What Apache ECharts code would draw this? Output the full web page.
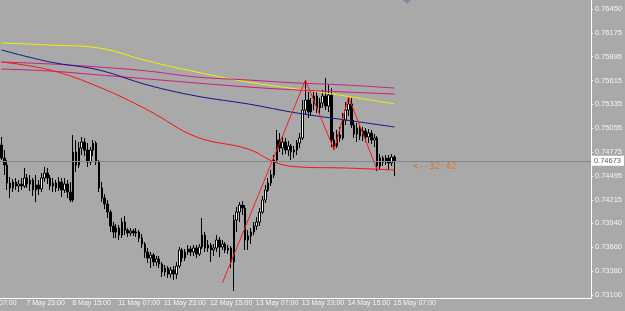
<!DOCTYPE html>
<html>
<head>
<meta charset="utf-8">
<script src="https://cdn.jsdelivr.net/npm/echarts@6/dist/echarts.min.js"></script>
<style>
html, body { margin: 0; padding: 0; background: #a9a9a9; }
#chart { width: 625px; height: 311px; }
</style>
</head>
<body>
<div id="chart"></div>
<script>
// hourly bars, weekend skipped
var days = [['7 May', 15, 23], ['8 May', 0, 23], ['11 May', 0, 23], ['12 May', 0, 23],
    ['13 May', 0, 23], ['14 May', 0, 23], ['15 May', 0, 8]]
var totalSlots = 206

// [open, close, low, high]
var bars = [
    [0.74859, 0.74706, 0.74683, 0.74953], [0.74706, 0.74624, 0.74507, 0.74800], [0.74624, 0.74413, 0.74331, 0.74683],
    [0.74413, 0.74355, 0.74237, 0.74484], [0.74355, 0.74425, 0.74308, 0.74460], [0.74425, 0.74378, 0.74331, 0.74472],
    [0.74378, 0.74401, 0.74308, 0.74448], [0.74401, 0.74378, 0.74331, 0.74472], [0.74378, 0.74472, 0.74355, 0.74589],
    [0.74472, 0.74401, 0.74355, 0.74519], [0.74401, 0.74448, 0.74319, 0.74507], [0.74448, 0.74331, 0.74261, 0.74472],
    [0.74331, 0.74390, 0.74190, 0.74507], [0.74390, 0.74343, 0.74272, 0.74448], [0.74343, 0.74472, 0.74308, 0.74530],
    [0.74472, 0.74530, 0.74425, 0.74601], [0.74530, 0.74472, 0.74401, 0.74589], [0.74472, 0.74378, 0.74331, 0.74507],
    [0.74378, 0.74413, 0.74308, 0.74472], [0.74413, 0.74355, 0.74308, 0.74448], [0.74355, 0.74425, 0.74319, 0.74484],
    [0.74425, 0.74331, 0.74249, 0.74472], [0.74331, 0.74401, 0.74296, 0.74472], [0.74401, 0.74308, 0.74237, 0.74448],
    [0.74308, 0.74214, 0.74190, 0.74425], [0.74214, 0.74777, 0.74190, 0.74976], [0.74777, 0.74624, 0.74542, 0.74917],
    [0.74624, 0.74824, 0.74589, 0.74894], [0.74824, 0.74894, 0.74741, 0.74953], [0.74894, 0.74800, 0.74730, 0.74941],
    [0.74800, 0.74659, 0.74601, 0.74882], [0.74659, 0.74800, 0.74624, 0.74835], [0.74800, 0.74882, 0.74730, 0.74917],
    [0.74882, 0.74659, 0.74624, 0.74906], [0.74659, 0.74355, 0.74308, 0.74683], [0.74355, 0.74237, 0.74190, 0.74425],
    [0.74237, 0.74167, 0.74108, 0.74284], [0.74167, 0.74073, 0.74003, 0.74214], [0.74073, 0.73909, 0.73839, 0.74097],
    [0.73909, 0.73839, 0.73768, 0.73956], [0.73839, 0.73885, 0.73768, 0.73932], [0.73885, 0.73803, 0.73745, 0.73921],
    [0.73803, 0.73956, 0.73768, 0.74003], [0.73956, 0.73862, 0.73803, 0.74026], [0.73862, 0.73827, 0.73780, 0.73885],
    [0.73827, 0.73850, 0.73792, 0.73885], [0.73850, 0.73827, 0.73792, 0.73874], [0.73827, 0.73839, 0.73780, 0.73885],
    [0.73839, 0.73768, 0.73721, 0.73862], [0.73768, 0.73698, 0.73651, 0.73815], [0.73698, 0.73604, 0.73534, 0.73721],
    [0.73604, 0.73534, 0.73475, 0.73651], [0.73534, 0.73569, 0.73416, 0.73604], [0.73569, 0.73487, 0.73440, 0.73592],
    [0.73487, 0.73522, 0.73440, 0.73557], [0.73522, 0.73463, 0.73416, 0.73557], [0.73463, 0.73370, 0.73311, 0.73487],
    [0.73370, 0.73416, 0.73323, 0.73452], [0.73416, 0.73346, 0.73300, 0.73440], [0.73346, 0.73393, 0.73300, 0.73428],
    [0.73393, 0.73346, 0.73276, 0.73440], [0.73346, 0.73440, 0.73287, 0.73487], [0.73440, 0.73628, 0.73416, 0.73663],
    [0.73628, 0.73534, 0.73487, 0.73651], [0.73534, 0.73604, 0.73499, 0.73639], [0.73604, 0.73639, 0.73569, 0.73686],
    [0.73639, 0.73604, 0.73557, 0.73674], [0.73604, 0.73651, 0.73557, 0.73686], [0.73651, 0.73581, 0.73534, 0.73686],
    [0.73581, 0.73663, 0.73557, 0.73698], [0.73663, 0.73803, 0.73639, 0.74003], [0.73803, 0.73651, 0.73604, 0.73839],
    [0.73651, 0.73686, 0.73604, 0.73745], [0.73686, 0.73628, 0.73487, 0.73710], [0.73628, 0.73651, 0.73557, 0.73698],
    [0.73651, 0.73745, 0.73604, 0.73803], [0.73745, 0.73663, 0.73545, 0.73780], [0.73663, 0.73698, 0.73628, 0.73745],
    [0.73698, 0.73628, 0.73592, 0.73721], [0.73628, 0.73651, 0.73581, 0.73686], [0.73651, 0.73487, 0.73416, 0.73674],
    [0.73487, 0.73979, 0.73147, 0.74038], [0.73979, 0.74073, 0.73839, 0.74132], [0.74073, 0.74155, 0.73956, 0.74190],
    [0.74155, 0.74120, 0.74038, 0.74202], [0.74120, 0.73745, 0.73628, 0.74155], [0.73745, 0.73792, 0.73628, 0.73862],
    [0.73792, 0.73839, 0.73698, 0.73885], [0.73839, 0.73909, 0.73803, 0.73956], [0.73909, 0.73956, 0.73862, 0.74015],
    [0.73956, 0.74073, 0.73909, 0.74120], [0.74073, 0.74214, 0.74050, 0.74261], [0.74214, 0.74331, 0.74179, 0.74390],
    [0.74331, 0.74413, 0.74308, 0.74472], [0.74413, 0.74507, 0.74378, 0.74566], [0.74507, 0.74683, 0.74472, 0.74741],
    [0.74683, 0.74917, 0.74648, 0.75035], [0.74917, 0.74824, 0.74777, 0.74999], [0.74824, 0.74894, 0.74741, 0.74953],
    [0.74894, 0.74800, 0.74753, 0.74941], [0.74800, 0.74847, 0.74730, 0.74906], [0.74847, 0.74777, 0.74683, 0.74871],
    [0.74777, 0.74800, 0.74706, 0.74847], [0.74800, 0.74882, 0.74741, 0.74917], [0.74882, 0.74941, 0.74824, 0.74999],
    [0.74941, 0.75269, 0.74917, 0.75386], [0.75269, 0.75386, 0.75222, 0.75621], [0.75386, 0.75246, 0.75175, 0.75480],
    [0.75246, 0.75340, 0.75199, 0.75410], [0.75340, 0.75433, 0.75269, 0.75504], [0.75433, 0.75293, 0.75234, 0.75480],
    [0.75293, 0.75351, 0.75222, 0.75410], [0.75351, 0.75433, 0.75293, 0.75504], [0.75433, 0.75316, 0.75269, 0.75644],
    [0.75316, 0.75445, 0.75246, 0.75562], [0.75445, 0.74917, 0.74835, 0.75527], [0.74917, 0.74847, 0.74800, 0.75011],
    [0.74847, 0.74976, 0.74824, 0.75035], [0.74976, 0.74941, 0.74894, 0.75070], [0.74941, 0.75152, 0.74917, 0.75234],
    [0.75152, 0.75269, 0.75093, 0.75363], [0.75269, 0.75340, 0.75199, 0.75422], [0.75340, 0.75093, 0.75058, 0.75410],
    [0.75093, 0.74988, 0.74941, 0.75152], [0.74988, 0.75058, 0.74894, 0.75117], [0.75058, 0.74964, 0.74917, 0.75093],
    [0.74964, 0.75023, 0.74906, 0.75070], [0.75023, 0.74953, 0.74894, 0.75058], [0.74953, 0.74999, 0.74882, 0.75046],
    [0.74999, 0.74917, 0.74871, 0.75035], [0.74917, 0.74941, 0.74835, 0.74988], [0.74941, 0.74613, 0.74554, 0.74964],
    [0.74613, 0.74706, 0.74566, 0.74753], [0.74706, 0.74659, 0.74613, 0.74730], [0.74659, 0.74706, 0.74624, 0.74741],
    [0.74706, 0.74648, 0.74566, 0.74741], [0.74648, 0.74718, 0.74613, 0.74753], [0.74718, 0.74673, 0.74495, 0.74741]
]

// moving averages, read at a few bars: [bar index, price]
var maYellow = [[0, 0.76055], [17, 0.76031], [34, 0.75996], [51, 0.75844], [68, 0.75715], [86, 0.75597], [103, 0.75515], [120, 0.75433], [137, 0.75340]]
var maBlue = [[0, 0.75973], [17, 0.75832], [34, 0.75738], [51, 0.75562], [68, 0.75433], [86, 0.75340], [103, 0.75234], [120, 0.75152], [137, 0.75070]]
var maRed = [[0, 0.75832], [17, 0.75738], [34, 0.75539], [51, 0.75269], [68, 0.74953], [86, 0.74812], [96, 0.74648], [104, 0.74601], [120, 0.74589], [137, 0.74566]]
var maPinkA = [[0, 0.75832], [17, 0.75809], [34, 0.75773], [51, 0.75726], [68, 0.75656], [86, 0.75621], [103, 0.75586], [120, 0.75562], [137, 0.75527]]
var maPinkB = [[0, 0.75750], [17, 0.75726], [34, 0.75680], [51, 0.75633], [68, 0.75586], [86, 0.75539], [103, 0.75504], [120, 0.75480], [137, 0.75457]]
var zigzag = [[77, 0.73241], [106, 0.75621], [116, 0.74800], [121, 0.75422], [131, 0.74566]]

var priceTicks = [0.76450, 0.76175, 0.75895, 0.75615, 0.75335, 0.75055, 0.74775, 0.74495, 0.74215, 0.73940, 0.73660, 0.73380, 0.73100]
var lastPrice = 0.74673
var timerText = '<--32:42'

var categories = []
days.forEach(function (d) {
    for (var h = d[1]; h <= d[2]; h++) {
        categories.push(d[0] + ' ' + (h < 10 ? '0' : '') + h + ':00')
    }
})
while (categories.length < totalSlots) categories.push('')

function sparse (points) {
    var arr = []
    for (var i = 0; i < totalSlots; i++) arr.push(null)
    points.forEach(function (p) { arr[p[0]] = p[1] })
    return arr
}

function maSeries (points, color) {
    return {
        type: 'line',
        data: sparse(points),
        connectNulls: true,
        smooth: 0.4,
        symbol: 'none',
        z: 3,
        lineStyle: { color: color, width: 1 }
    }
}

var showTime = function (idx) {
    return idx < bars.length && idx % 16 === 8
}

var chart = echarts.init(document.getElementById('chart'), null, { renderer: 'canvas' })
var option = {
    animation: false,
    backgroundColor: '#a9a9a9',
    grid: { left: 0, top: 0, right: 27, bottom: 13 },
    xAxis: {
        type: 'category',
        data: categories,
        boundaryGap: true,
        axisLine: { lineStyle: { color: '#ffffff', width: 1 } },
        axisTick: { alignWithLabel: true, interval: showTime, length: 3, lineStyle: { color: '#ffffff' } },
        axisLabel: {
            interval: showTime,
            align: 'left',
            margin: 2,
            padding: [0, 0, 0, 2],
            color: '#f4f4f4',
            fontSize: 7,
            fontFamily: 'Liberation Sans'
        },
        splitLine: { show: false }
    },
    yAxis: {
        type: 'value',
        position: 'right',
        min: 0.73065,
        max: 0.76559,
        axisLine: { show: true, lineStyle: { color: '#ffffff', width: 1 } },
        axisTick: { show: true, customValues: priceTicks, length: 2, lineStyle: { color: '#ffffff' } },
        axisLabel: {
            customValues: priceTicks,
            margin: 4,
            color: '#f4f4f4',
            fontSize: 7.5,
            fontFamily: 'Liberation Sans',
            formatter: function (v) { return v.toFixed(5) }
        },
        splitLine: { show: false }
    },
    series: [
        {
            type: 'candlestick',
            data: bars,
            barWidth: 2,
            z: 2,
            itemStyle: {
                color: '#ffffff',
                color0: '#000000',
                borderColor: '#000000',
                borderColor0: '#000000',
                borderWidth: 1
            }
        },
        maSeries(maYellow, '#f2f200'),
        maSeries(maPinkA, '#c8207e'),
        maSeries(maPinkB, '#d0187c'),
        maSeries(maBlue, '#14148c'),
        maSeries(maRed, '#ff1010'),
        {
            type: 'line',
            data: sparse(zigzag),
            connectNulls: true,
            symbol: 'none',
            z: 4,
            lineStyle: { color: '#ff1a1a', width: 1 },
            // current price line
            markLine: {
                symbol: 'none',
                silent: true,
                precision: 5,
                lineStyle: { color: '#7d8894', width: 1, type: 'solid' },
                label: {
                    position: 'end',
                    distance: 1,
                    formatter: lastPrice.toFixed(5),
                    backgroundColor: '#ffffff',
                    color: '#606060',
                    fontSize: 7.5,
                    fontFamily: 'Liberation Sans',
                    padding: [1, 3, 1, 2]
                },
                data: [{ yAxis: lastPrice }]
            }
        }
    ],
    graphic: [
        {
            type: 'text',
            left: -22,
            top: 300,
            style: { text: '7 May 07:00', fill: '#f4f4f4', font: '7px "Liberation Sans"' }
        },
        {
            type: 'text',
            left: 413,
            top: 162,
            style: { text: timerText, fill: '#d8782a', font: '9px "DejaVu Sans Mono"' }
        },
        {
            type: 'polygon',
            shape: { points: [[403, 0], [411, 0], [407, 4]] },
            style: { fill: '#7a8aa0' }
        }
    ]
}
chart.setOption(option)
</script>
</body>
</html>
